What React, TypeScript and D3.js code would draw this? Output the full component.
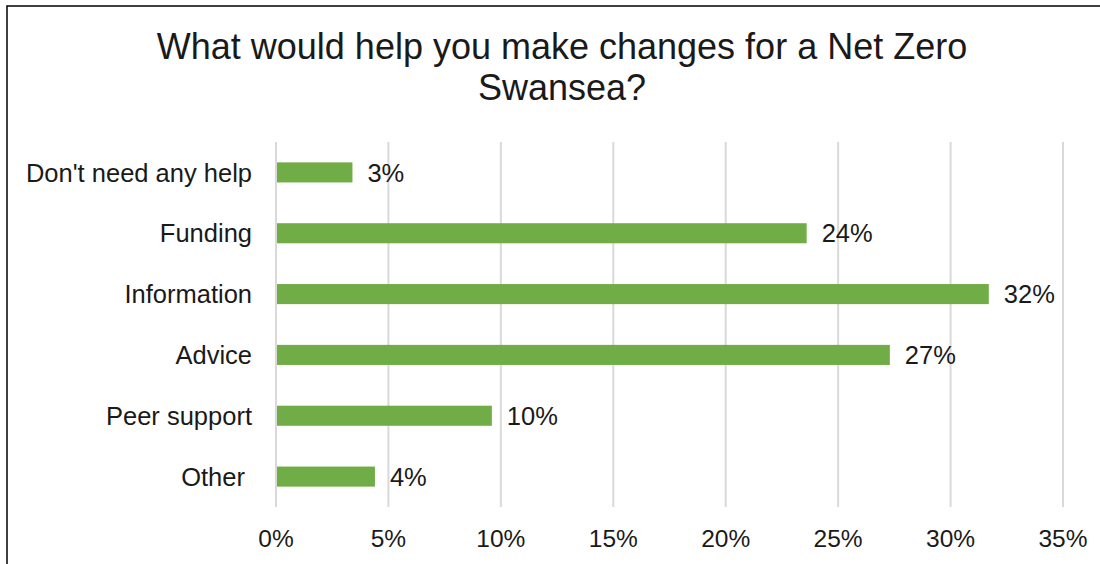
import React, { useEffect, useRef } from "react";
import * as d3 from "d3";

const categories = ["Don't need any help", "Funding", "Information", "Advice", "Peer support", "Other "];
const values = [0.034, 0.236, 0.317, 0.273, 0.096, 0.044];
const labels = ["3%", "24%", "32%", "27%", "10%", "4%"];
const ticks = [0, 0.05, 0.1, 0.15, 0.2, 0.25, 0.3, 0.35];
const titleLines = ["What would help you make changes for a Net Zero", "Swansea?"];

const W = 1100;
const H = 564;

export default function App() {
  const ref = useRef<SVGSVGElement>(null);
  useEffect(() => {
    const svg = d3.select(ref.current);
    svg.selectAll("*").remove();
    const font = "'Liberation Sans', Arial, sans-serif";
    const textColor = "#1a1a1a";

    svg.append("rect").attr("x", 7).attr("y", 6).attr("width", 1200).attr("height", 700)
      .attr("fill", "#fff").attr("stroke", "#000").attr("stroke-width", 1.5);

    const x = d3.scaleLinear().domain([0, 0.35]).range([276, 1063]);
    const y = d3.scaleBand().domain(categories).range([142, 507]).paddingInner(0.67).paddingOuter(0.335);

    svg.append("g").selectAll("line").data(ticks).join("line")
      .attr("x1", (d) => x(d)).attr("x2", (d) => x(d)).attr("y1", 142).attr("y2", 507)
      .attr("stroke", "#d9d9d9").attr("stroke-width", 2);

    svg.append("g").selectAll("rect").data(values).join("rect")
      .attr("x", x(0) + 1).attr("y", (_, i) => y(categories[i])!)
      .attr("width", (d) => x(d) - x(0) - 1).attr("height", y.bandwidth())
      .attr("fill", "#70ad47");

    svg.append("g").selectAll("text").data(values).join("text")
      .attr("x", (d) => x(d) + 15).attr("y", (_, i) => y(categories[i])! + y.bandwidth() / 2)
      .attr("dy", "0.36em").attr("font-family", font).attr("font-size", 25.5).attr("fill", textColor)
      .text((_, i) => labels[i]);

    svg.append("g").selectAll("text").data(categories).join("text")
      .attr("x", 252).attr("y", (d) => y(d)! + y.bandwidth() / 2)
      .attr("dy", "0.36em").attr("text-anchor", "end").attr("font-family", font).attr("font-size", 25.5)
      .style("white-space", "pre")
      .attr("fill", textColor).text((d) => d);

    svg.append("g").selectAll("text").data(ticks).join("text")
      .attr("x", (d) => x(d)).attr("y", 547).attr("text-anchor", "middle")
      .attr("font-family", font).attr("font-size", 24.5).attr("fill", textColor)
      .text((d) => d3.format(".0%")(d));

    svg.append("g").selectAll("text").data(titleLines).join("text")
      .attr("x", 562).attr("y", (_, i) => 59 + i * 41).attr("text-anchor", "middle")
      .attr("font-family", font).attr("font-size", 36).attr("fill", textColor)
      .text((d) => d);
  }, []);
  return (
    <svg ref={ref} width={W} height={H} style={{ position: "absolute", left: 0, top: 0, background: "#fff" }} />
  );
}
